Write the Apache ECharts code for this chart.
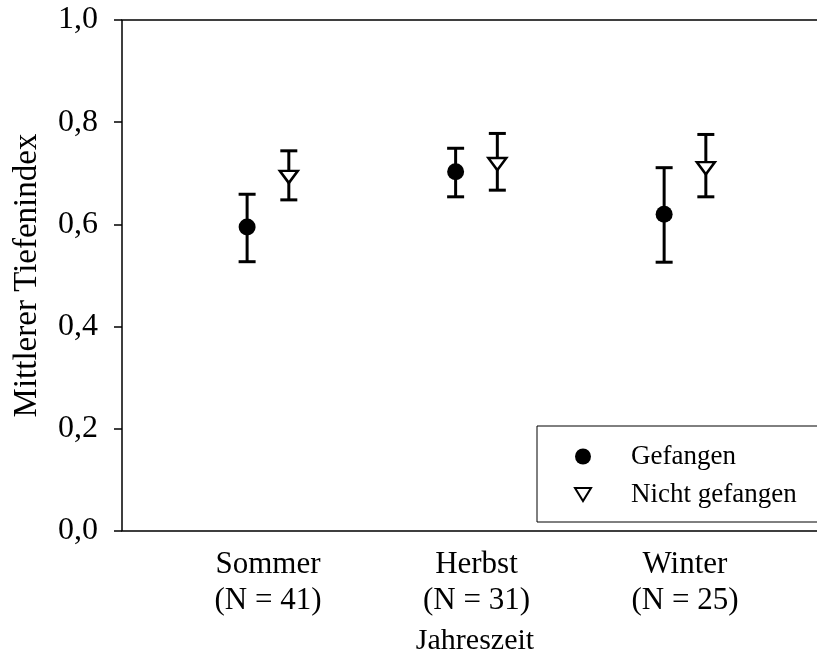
<!DOCTYPE html>
<html>
<head>
<meta charset="utf-8">
<script src="https://cdn.jsdelivr.net/npm/echarts@6/dist/echarts.min.js"></script>
<style>
  html, body { margin: 0; padding: 0; background: #fff; }
  #chart { width: 817px; height: 655px; }
</style>
</head>
<body>
<div id="chart"></div>
<script>
// Jahreszeiten und Stichprobengrößen
var seasons = ['Sommer', 'Herbst', 'Winter']
var nCounts = [41, 31, 25]

// Mittlerer Tiefenindex mit Fehlerbalken
var gefMean   = [0.595, 0.703, 0.620]
var gefLow    = [0.527, 0.654, 0.526]
var gefHigh   = [0.659, 0.749, 0.711]
var nichtMean = [0.693, 0.718, 0.710]
var nichtLow  = [0.648, 0.667, 0.654]
var nichtHigh = [0.744, 0.778, 0.776]

var yTicks = [0, 0.2, 0.4, 0.6, 0.8, 1.0]

var serif = 'Liberation Serif'
var triPath = 'path://M0,0L16,0L8,13Z'
var shift = 0.1

function points (means, dx) {
    return means.map((v, i) => [i + 1 + dx, v])
}
function bars (low, high, dx) {
    return low.map((v, i) => [i + 1 + dx, v, high[i]])
}

function errorBar (params, api) {
    let x = api.value(0)
    let lo = api.coord([x, api.value(1)])
    let hi = api.coord([x, api.value(2)])
    let w = 8.5
    let style = { stroke: '#000', lineWidth: 3 }
    return {
        type: 'group',
        children: [
            { type: 'line', shape: { x1: lo[0], y1: lo[1], x2: hi[0], y2: hi[1] }, style: style },
            { type: 'line', shape: { x1: lo[0] - w, y1: lo[1], x2: lo[0] + w, y2: lo[1] }, style: style },
            { type: 'line', shape: { x1: hi[0] - w, y1: hi[1], x2: hi[0] + w, y2: hi[1] }, style: style }
        ]
    }
}

var chart = echarts.init(document.getElementById('chart'))
var option = {
    animation: false,
    // der rechte Rand liegt außerhalb des Bildes
    grid: {
        left: 122, width: 720, top: 20, bottom: 124,
        outerBoundsMode: 'none',
        show: true, borderColor: '#000', borderWidth: 1.5
    },
    legend: {
        orient: 'vertical',
        left: 537, top: 426,
        backgroundColor: '#fff',
        borderColor: '#000', borderWidth: 1,
        padding: [17, 60, 14, 37],
        itemGap: 11,
        itemWidth: 16, itemHeight: 16,
        textStyle: { fontFamily: serif, fontSize: 27, color: '#000', padding: [0, 0, 0, 35] },
        data: [
            { name: 'Gefangen', icon: 'circle' },
            { name: 'Nicht gefangen', icon: triPath }
        ]
    },
    xAxis: {
        type: 'value',
        min: 0.3, max: 3.753,
        name: 'Jahreszeit',
        nameLocation: 'middle',
        nameGap: 95,
        nameTextStyle: { fontFamily: serif, fontSize: 30, color: '#000', padding: [0, 14, 0, 0] },
        axisLine: { show: false },
        axisTick: { show: false },
        splitLine: { show: false },
        axisLabel: {
            customValues: [1, 2, 3],
            margin: 16,
            fontFamily: serif, fontSize: 31, color: '#000', lineHeight: 36,
            formatter: v => {
                let i = Math.round(v) - 1
                return seasons[i] + '\n(N = ' + nCounts[i] + ')'
            }
        }
    },
    yAxis: {
        type: 'value',
        min: 0, max: 1, interval: 0.2,
        name: 'Mittlerer Tiefenindex',
        nameLocation: 'middle',
        nameGap: 78,
        nameTextStyle: { fontFamily: serif, fontSize: 33, color: '#000' },
        axisLine: { show: false },
        axisTick: {
            show: true, inside: false, length: 8,
            customValues: yTicks,
            lineStyle: { color: '#000', width: 1.5 }
        },
        splitLine: { show: false },
        axisLabel: {
            customValues: yTicks,
            margin: 24,
            fontFamily: serif, fontSize: 32, color: '#000',
            formatter: v => v.toFixed(1).replace('.', ',')
        }
    },
    series: [
        {
            type: 'custom', name: 'barsGef', renderItem: errorBar, z: 1,
            data: bars(gefLow, gefHigh, -shift), silent: true
        },
        {
            type: 'custom', name: 'barsNicht', renderItem: errorBar, z: 1,
            data: bars(nichtLow, nichtHigh, shift), silent: true
        },
        {
            type: 'scatter', name: 'Gefangen', z: 3,
            symbol: 'circle', symbolSize: 17,
            itemStyle: { color: '#000', opacity: 1 },
            data: points(gefMean, -shift)
        },
        {
            type: 'scatter', name: 'Nicht gefangen', z: 3,
            symbol: triPath, symbolSize: [18, 15], symbolKeepAspect: true,
            itemStyle: { color: '#fff', borderColor: '#000', borderWidth: 2.5, opacity: 1 },
            data: points(nichtMean, shift)
        }
    ]
}
chart.setOption(option)
</script>
</body>
</html>
